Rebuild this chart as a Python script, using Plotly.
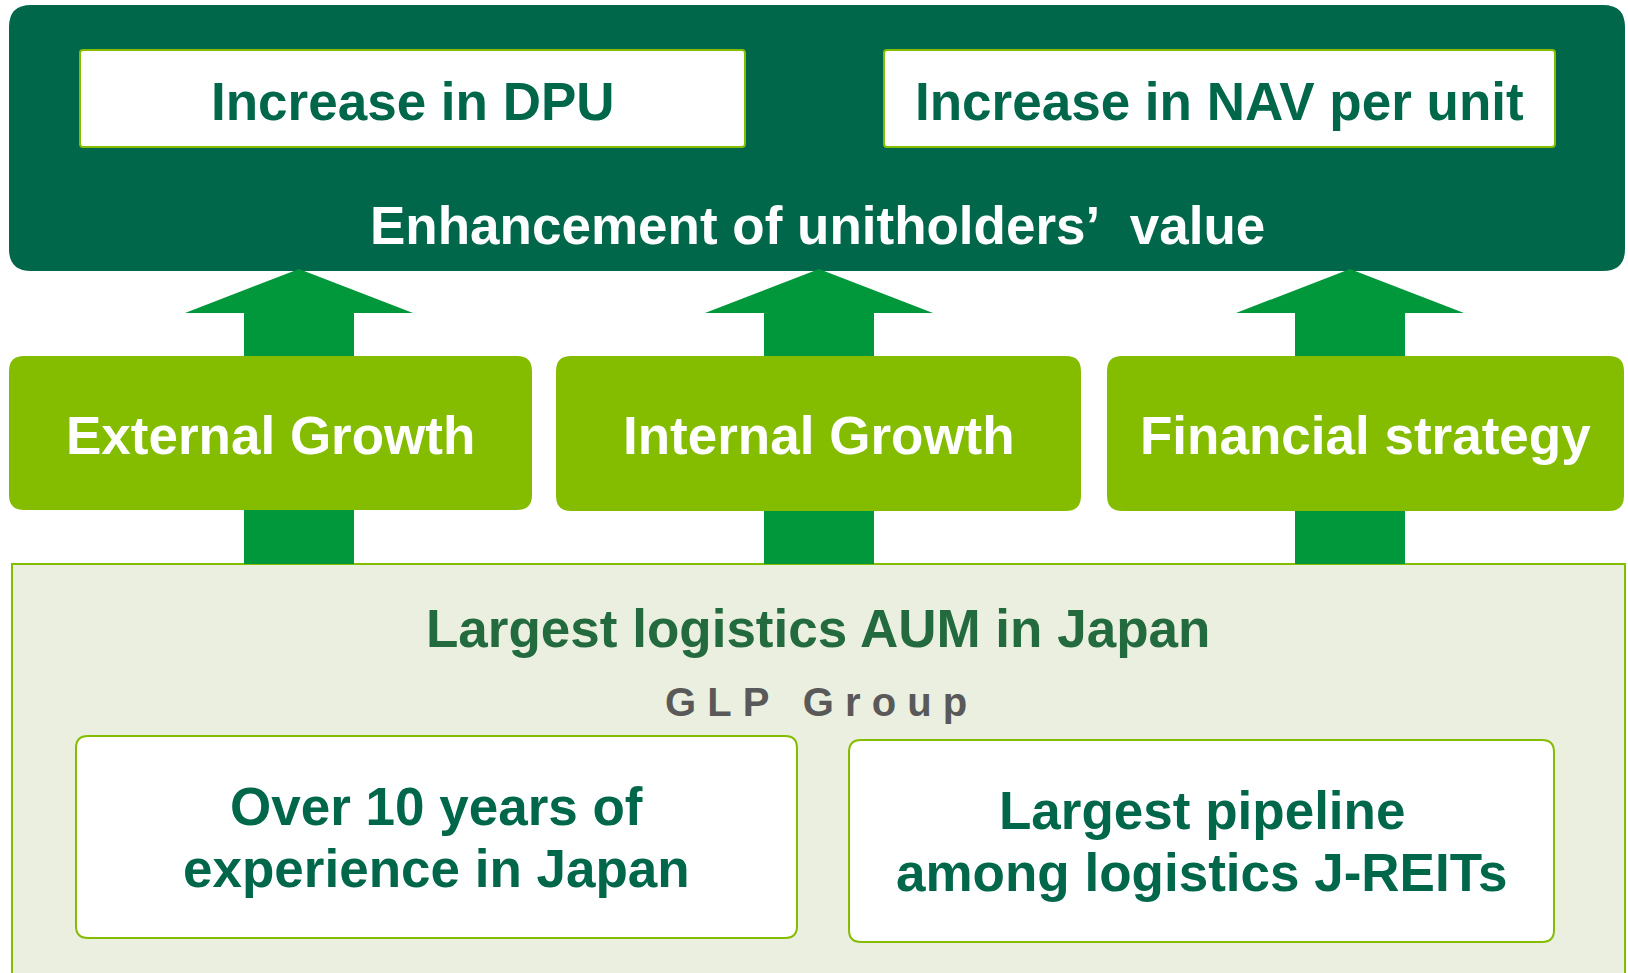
import plotly.graph_objects as go

W, H = 1628, 973

# labels
goal_labels = ["Increase in DPU", "Increase in NAV per unit"]
goal_title = "Enhancement of unitholders\u2019\u00a0 value"
pillar_labels = ["External Growth", "Internal Growth", "Financial strategy"]
base_title = "Largest logistics AUM in Japan"
base_sub = "G\u00a0L\u00a0P\u00a0\u00a0\u00a0G\u00a0r\u00a0o\u00a0u\u00a0p"
base_lines = [["Over 10 years of", "experience in Japan"],
              ["Largest pipeline", "among logistics J-REITs"]]

# geometry (pixels, y down)
goal_boxes = [(80, 50, 745, 147), (884, 50, 1555, 147)]
pillar_boxes = [(9, 356, 532, 510), (556, 356, 1081, 511), (1107, 356, 1624, 511)]
arrow_x = [299, 819, 1350]
base_boxes = [(76, 736, 797, 938), (849, 740, 1554, 942)]

DARK = "#00674b"
LIME = "#84bc00"
ARROW = "#00983a"
PALE = "#ebefdf"
FONT = "Liberation Sans, Arial, sans-serif"


def rrect(x0, y0, x1, y1, r):
    return (f"M{x0+r},{y0} L{x1-r},{y0} Q{x1},{y0} {x1},{y0+r} "
            f"L{x1},{y1-r} Q{x1},{y1} {x1-r},{y1} L{x0+r},{y1} "
            f"Q{x0},{y1} {x0},{y1-r} L{x0},{y0+r} Q{x0},{y0} {x0+r},{y0} Z")


def arrow(cx, tip=269, neck=313, bottom=564, head=114, shaft=55):
    return (f"M{cx},{tip} L{cx+head},{neck} L{cx+shaft},{neck} L{cx+shaft},{bottom} "
            f"L{cx-shaft},{bottom} L{cx-shaft},{neck} L{cx-head},{neck} Z")


shapes = []
# top dark box
shapes.append(dict(type="path", path=rrect(9, 5, 1625, 271, 22),
                   fillcolor=DARK, line=dict(width=0)))
for b in goal_boxes:
    shapes.append(dict(type="path", path=rrect(*b, 3), fillcolor="white",
                       line=dict(color=LIME, width=2)))
# bottom pale box
shapes.append(dict(type="rect", x0=12, y0=564, x1=1625, y1=990,
                   fillcolor=PALE, line=dict(color=LIME, width=2)))
for cx in arrow_x:
    shapes.append(dict(type="path", path=arrow(cx), fillcolor=ARROW, line=dict(width=0)))
for b in pillar_boxes:
    shapes.append(dict(type="path", path=rrect(*b, 15), fillcolor=LIME, line=dict(width=0)))
for b in base_boxes:
    shapes.append(dict(type="path", path=rrect(*b, 12), fillcolor="white",
                       line=dict(color=LIME, width=2)))

ann = []


def text(x, y, s, color, size=53):
    ann.append(dict(x=x, y=y, text=f"<b>{s}</b>", showarrow=False,
                    xanchor="center", yanchor="middle",
                    font=dict(family=FONT, size=size, color=color)))


for b, s in zip(goal_boxes, goal_labels):
    text((b[0] + b[2]) / 2, 101, s, DARK)
text(817, 225, goal_title, "white")
for b, s in zip(pillar_boxes, pillar_labels):
    text((b[0] + b[2]) / 2, 435, s, "white")
text(818, 628, base_title, "#236b3e")
text(816, 702, base_sub, "#595959", size=40)
for b, lines in zip(base_boxes, base_lines):
    cx = (b[0] + b[2]) / 2
    cy = (b[1] + b[3]) / 2
    text(cx, cy - 31, lines[0], DARK)
    text(cx, cy + 31, lines[1], DARK)

fig = go.Figure()
fig.update_layout(
    width=W, height=H, margin=dict(l=0, r=0, t=0, b=0),
    paper_bgcolor="white", plot_bgcolor="white",
    xaxis=dict(range=[0, W], visible=False, fixedrange=True),
    yaxis=dict(range=[H, 0], visible=False, fixedrange=True),
    shapes=shapes, annotations=ann, showlegend=False,
)
fig.write_html("out.html", config={"displayModeBar": False},
               post_script="document.body.style.margin='0px';document.body.style.overflow='hidden';")
